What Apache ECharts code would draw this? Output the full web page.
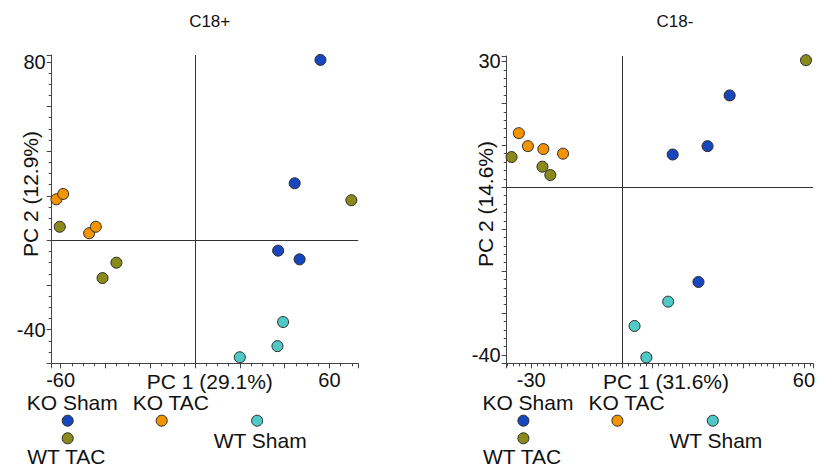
<!DOCTYPE html>
<html>
<head>
<meta charset="utf-8">
<script src="https://cdn.jsdelivr.net/npm/echarts@6/dist/echarts.min.js"></script>
<style>html,body{margin:0;padding:0;background:#fff;}#c{width:818px;height:473px;}</style>
</head>
<body>
<div id="c"></div>
<script>
// ---- data ----
const panelTitles = ['C18+', 'C18-'];
const xNames = ['PC 1 (29.1%)', 'PC 1 (31.6%)'];
const yNames = ['PC 2 (12.9%)', 'PC 2 (14.6%)'];
const groups = ['KO Sham', 'KO TAC', 'WT Sham', 'WT TAC'];
const groupColors = ['#1846bf', '#f39300', '#4ec9c6', '#8a8a1c'];

// C18+ scores [PC1, PC2]
const posKOSham = [[56.0, 80.9], [44.5, 25.6], [37.1, -4.6], [46.7, -8.5]];
const posKOTAC  = [[-61.9, 18.4], [-58.9, 20.8], [-47.3, 3.2], [-44.3, 6.1]];
const posWTSham = [[20.0, -52.4], [36.8, -47.4], [39.3, -36.6]];
const posWTTAC  = [[-60.4, 6.1], [-41.3, -16.9], [-35.1, -10.0], [69.8, 18.0]];

// C18- scores [PC1, PC2]
const negKOSham = [[35.5, 21.9], [28.2, 9.8], [16.7, 7.8], [25.2, -22.6]];
const negKOTAC  = [[-34.1, 12.9], [-31.1, 9.8], [-26.0, 9.1], [-19.5, 8.0]];
const negWTSham = [[15.2, -27.3], [4.1, -33.1], [8.0, -40.6]];
const negWTTAC  = [[-36.5, 7.2], [-26.3, 4.9], [-23.7, 2.9], [60.7, 30.3]];

// axis ranges and shown tick labels
const xRanges = [[-64.0, 72.9], [-38.1, 63.0]];
const yRanges = [[-55.1, 83.1], [-42.0, 31.3]];
const xTickLabels = [[-60, 60], [-30, 60]];
const yTickLabels = [[80, -40], [30, -40]];
const xSplit = [7, 10];
const ySplit = [7, 7];
const minorSplit = [4, 5];

const panelData = [
  [posKOSham, posKOTAC, posWTSham, posWTTAC],
  [negKOSham, negKOTAC, negWTSham, negWTTAC]
];

// ---- layout ----
const FONT = '"Liberation Sans", Arial, Helvetica, sans-serif';
const grids = [
  {left: 51.7, top: 55, width: 306.6, height: 308.3},
  {left: 506.7, top: 56, width: 309.3, height: 307.3}
];
const titlePos = [[209.7, 21], [675, 21]];
const xNamePos = [[209.8, 381.7], [666, 381.7]];
const yNamePos = [[30, 194], [485, 204]];
const legendOffset = [0, 455.7];

function labelFmt(list) {
  return function (v) {
    for (const t of list) { if (Math.abs(v - t) < 1e-6) return String(t); }
    return '';
  };
}

function axisCommon() {
  return {
    type: 'value',
    splitLine: {show: false},
    axisLine: {show: true, onZero: false, lineStyle: {color: '#444', width: 1}},
    axisTick: {show: true, inside: false, length: 5, lineStyle: {color: '#444', width: 1}},
    minorTick: {show: true, length: 3, lineStyle: {color: '#444', width: 1}},
    axisLabel: {color: '#111', fontSize: 20, fontFamily: FONT, margin: 7, showMinLabel: true, showMaxLabel: true}
  };
}

function txt(x, y, s, size, align, rot) {
  return {
    type: 'text', x: x, y: y, rotation: rot || 0, z: 10,
    style: {text: s, fontSize: size, fontFamily: FONT, fill: '#111', align: align, verticalAlign: 'middle'}
  };
}

const xAxes = [], yAxes = [], series = [], graphics = [];
for (let p = 0; p < 2; p++) {
  const xa = axisCommon();
  xa.gridIndex = p;
  xa.min = xRanges[p][0]; xa.max = xRanges[p][1];
  xa.splitNumber = xSplit[p];
  xa.minorTick.splitNumber = minorSplit[p];
  xa.axisLabel.formatter = labelFmt(xTickLabels[p]);
  xAxes.push(xa);

  const ya = axisCommon();
  ya.gridIndex = p;
  ya.min = yRanges[p][0]; ya.max = yRanges[p][1];
  ya.splitNumber = ySplit[p];
  ya.minorTick.splitNumber = minorSplit[p];
  ya.axisLabel.formatter = labelFmt(yTickLabels[p]);
  ya.axisLabel.margin = 6;
  yAxes.push(ya);

  graphics.push(txt(titlePos[p][0], titlePos[p][1], panelTitles[p], 17, 'center'));
  graphics.push(txt(xNamePos[p][0], xNamePos[p][1], xNames[p], 21, 'center'));
  graphics.push(txt(yNamePos[p][0], yNamePos[p][1], yNames[p], 21, 'center', Math.PI / 2));

  for (let g = 0; g < 4; g++) {
    const s = {
      name: groups[g], type: 'scatter', xAxisIndex: p, yAxisIndex: p,
      data: panelData[p][g], symbolSize: 11,
      itemStyle: {color: groupColors[g], borderColor: '#2a2a2a', borderWidth: 1, opacity: 1},
      z: 5
    };
    if (g === 0) {
      s.markLine = {
        silent: true, symbol: 'none', animation: false,
        label: {show: false},
        lineStyle: {color: '#333', type: 'solid', width: 1},
        data: [{xAxis: 0}, {yAxis: 0}]
      };
    }
    series.push(s);
  }

  // legend drawn as graphics
  const o = legendOffset[p];
  const circles = [[67.7, 420.7], [161.7, 420.7], [257.1, 420.7], [67.7, 438.3]];
  for (let g = 0; g < 4; g++) {
    graphics.push({
      type: 'circle', shape: {cx: circles[g][0] + o, cy: circles[g][1], r: 5.5},
      style: {fill: groupColors[g], stroke: '#2a2a2a', lineWidth: 1}
    });
  }
  const texts = [[26.7, 402.7], [132.7, 402.7], [213.7, 440.7], [27.3, 456.7]];
  for (let g = 0; g < 4; g++) {
    graphics.push(txt(texts[g][0] + o, texts[g][1], groups[g], 21, 'left'));
  }
}

const chart = echarts.init(document.getElementById('c'), null, {renderer: 'svg'});
chart.setOption({
  animation: false,
  backgroundColor: '#fff',
  grid: grids,
  xAxis: xAxes,
  yAxis: yAxes,
  series: series,
  graphic: graphics
});
</script>
</body>
</html>
